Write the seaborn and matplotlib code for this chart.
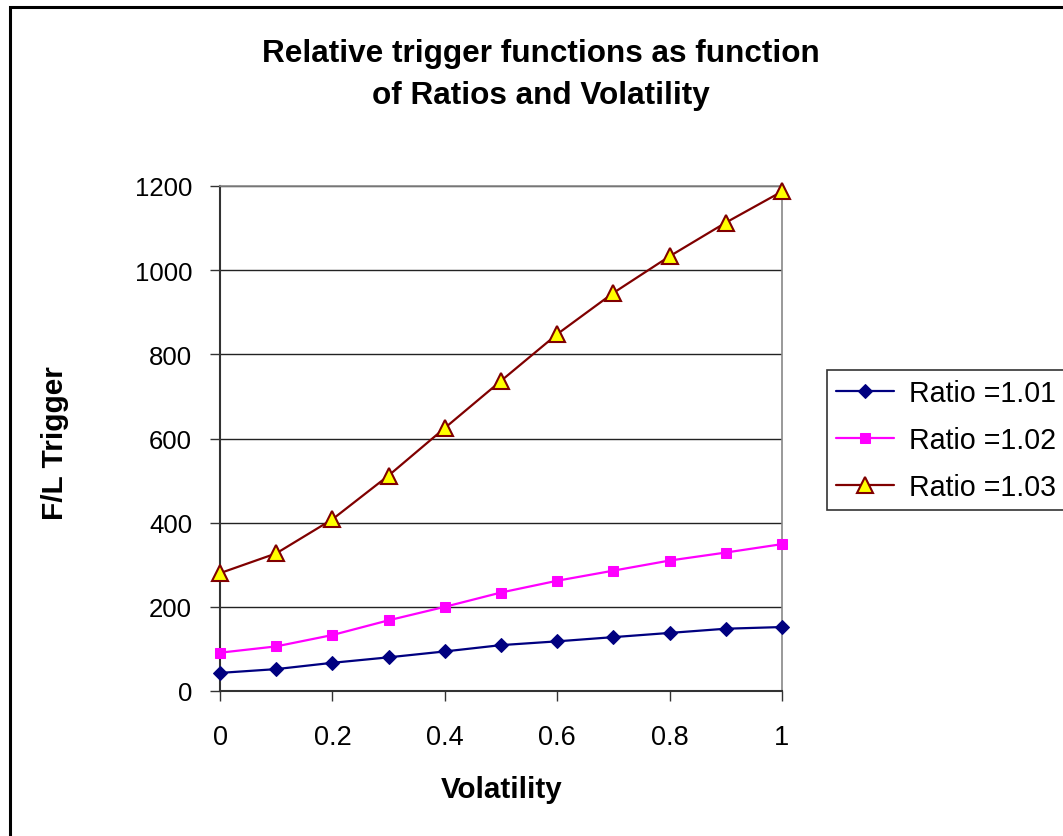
import matplotlib
matplotlib.use("Agg")
import matplotlib.pyplot as plt
import seaborn as sns
import pandas as pd
from matplotlib.patches import Rectangle

volatility = [0.0, 0.1, 0.2, 0.3, 0.4, 0.5, 0.6, 0.7, 0.8, 0.9, 1.0]
ratio_101 = [43, 52, 67, 80, 94, 109, 118, 128, 138, 148, 152]
ratio_102 = [91, 106, 133, 168, 200, 234, 262, 286, 310, 329, 349]
ratio_103 = [280, 327, 408, 512, 625, 737, 848, 946, 1033, 1113, 1187]
series_labels = ["Ratio =1.01", "Ratio =1.02", "Ratio =1.03"]
y_ticks = [0, 200, 400, 600, 800, 1000, 1200]
x_ticks = [0, 0.2, 0.4, 0.6, 0.8, 1.0]
x_tick_labels = ["0", "0.2", "0.4", "0.6", "0.8", "1"]

sns.set_theme(style="white")
plt.rcParams['font.family'] = ['Liberation Sans', 'DejaVu Sans']
plt.rcParams['text.color'] = 'black'
plt.rcParams['xtick.color'] = 'black'
plt.rcParams['ytick.color'] = 'black'

W, H = 1063, 837
fig = plt.figure(figsize=(W / 100, H / 100), dpi=100)
fig.patch.set_facecolor("white")

# outer chart frame (extends beyond right / bottom edge)
fig.patches.append(Rectangle((10 / W, -0.05), 1.2, 1 - 8 / H + 0.05, transform=fig.transFigure,
                             fill=False, edgecolor="black", linewidth=2.2, zorder=0))

ax = fig.add_axes([220 / W, 1 - 692 / H, (782 - 220) / W, (692 - 187) / H])

styles = [
    dict(color="#000080", marker="D", markersize=7.5, markerfacecolor="#000080", markeredgecolor="#000080"),
    dict(color="#FF00FF", marker="s", markersize=7, markerfacecolor="#FF00FF", markeredgecolor="#FF00FF"),
    dict(color="#800000", marker="^", markersize=11, markerfacecolor="#FFFF00", markeredgecolor="#800000",
         markeredgewidth=1.5),
]
for vals, lab, st in zip([ratio_101, ratio_102, ratio_103], series_labels, styles):
    df = pd.DataFrame({"Volatility": volatility, "F/L Trigger": vals})
    sns.lineplot(data=df, x="Volatility", y="F/L Trigger", ax=ax, label=lab, linewidth=1.6,
                 clip_on=False, zorder=3, **st)

ax.set_xlim(0, 1)
ax.set_ylim(0, 1200)
ax.set_yticks(y_ticks)
ax.set_xticks(x_ticks)
ax.set_xticklabels(x_tick_labels)
ax.tick_params(axis="y", labelsize=18.5, direction="out", length=7, width=1, color="#333333", pad=13,
               left=True, labelcolor="black")
ax.tick_params(axis="x", labelsize=19.5, direction="out", length=7, width=1, color="#333333", pad=17,
               bottom=True, labelcolor="black")
ax.grid(axis="y", color="#222222", linewidth=1)
ax.grid(axis="x", visible=False)
ax.set_axisbelow(True)
for s in ["top", "right"]:
    ax.spines[s].set_color("#888888")
    ax.spines[s].set_linewidth(1.2)
for s in ["left", "bottom"]:
    ax.spines[s].set_color("#333333")
    ax.spines[s].set_linewidth(1.5)

ax.set_xlabel("")
ax.set_ylabel("")
fig.text(502 / W, 1 - 790 / H, "Volatility", ha="center", va="center", fontsize=21.3, fontweight="bold")
fig.text(55 / W, 1 - 443 / H, "F/L Trigger", ha="center", va="center", rotation=90, fontsize=21.5,
         fontweight="bold")
fig.text(541 / W, 1 - 75 / H, "Relative trigger functions as function\nof Ratios and Volatility",
         ha="center", va="center", fontsize=22.7, fontweight="bold", linespacing=1.5)

leg = ax.legend(loc="upper left", bbox_to_anchor=(827 / W, 1 - 371 / H), bbox_transform=fig.transFigure,
                fontsize=20.6, frameon=True, fancybox=False, edgecolor="black", borderaxespad=0,
                handlelength=2.05, handletextpad=0.5, labelspacing=0.68, borderpad=0.3)
leg.get_frame().set_linewidth(1.2)
for t in leg.get_texts():
    t.set_color("black")

fig.savefig("out.png", dpi=100)
